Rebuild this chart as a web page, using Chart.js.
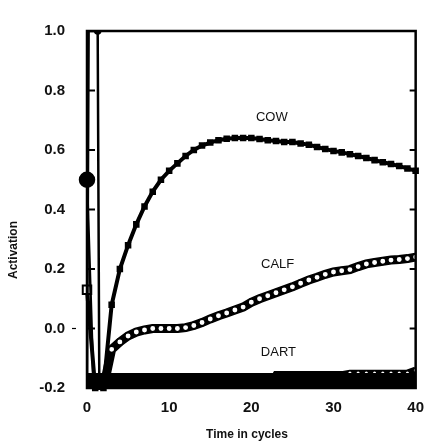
<!DOCTYPE html>
<html>
<head>
<meta charset="utf-8">
<script src="https://cdn.jsdelivr.net/npm/chart.js@4/dist/chart.umd.min.js"></script>
<style>
  body { margin: 0; background: #fff; }
  #wrap { width: 427px; height: 445px; }
</style>
</head>
<body>
<div id="wrap"><canvas id="chart" width="427" height="445"></canvas></div>
<script>
// time steps (cycles)
const times = [0,1,2,3,4,5,6,7,8,9,10,11,12,13,14,15,16,17,18,19,20,
  21,22,23,24,25,26,27,28,29,30,31,32,33,34,35,36,37,38,39,40];

// activations
// the brief unit that saturates right at the start
const spikeTimes = [0, 0.2, 1.3, 1.5];
const spikeUnit = [-0.2, 1.0, 1.0, -0.2];
// the unit with the big dot at t = 0
const startTimes = [0, 0.8];
const startUnit = [0.5, -0.2];
const cow = [0.13, -0.2, -0.2, 0.08, 0.2, 0.28, 0.35, 0.41, 0.46, 0.5, 0.53,
  0.555, 0.58, 0.6, 0.615, 0.625, 0.633, 0.638, 0.64, 0.64, 0.64,
  0.637, 0.633, 0.63, 0.627, 0.627, 0.622, 0.618, 0.61, 0.603, 0.597,
  0.592, 0.586, 0.58, 0.573, 0.566, 0.559, 0.553, 0.546, 0.538, 0.53];
const calf = [-0.2, -0.2, -0.2, -0.07, -0.045, -0.025, -0.012, -0.005, 0, 0, 0,
  0, 0.003, 0.01, 0.02, 0.032, 0.043, 0.052, 0.062, 0.072, 0.088,
  0.1, 0.11, 0.12, 0.13, 0.14, 0.152, 0.163, 0.172, 0.182, 0.19,
  0.194, 0.198, 0.208, 0.217, 0.222, 0.226, 0.23, 0.232, 0.235, 0.24];
const dart = [-0.2, -0.2, -0.2, -0.2, -0.2, -0.2, -0.2, -0.2, -0.2, -0.2, -0.2,
  -0.2, -0.2, -0.2, -0.2, -0.2, -0.2, -0.2, -0.2, -0.2, -0.2,
  -0.2, -0.2, -0.155, -0.155, -0.155, -0.155, -0.155, -0.155, -0.155, -0.155,
  -0.155, -0.15, -0.15, -0.15, -0.15, -0.15, -0.15, -0.15, -0.15, -0.14];
const otherUnits = [-0.2, -0.2, -0.2, -0.2, -0.2, -0.2, -0.2, -0.2, -0.2, -0.2, -0.2,
  -0.2, -0.2, -0.2, -0.2, -0.2, -0.2, -0.2, -0.2, -0.2, -0.2,
  -0.2, -0.2, -0.2, -0.2, -0.2, -0.2, -0.2, -0.2, -0.2, -0.2,
  -0.2, -0.2, -0.2, -0.2, -0.2, -0.2, -0.2, -0.2, -0.2, -0.2];

// curve labels: [text, time, activation]
const curveLabels = [['COW', 22.5, 0.71], ['CALF', 23.2, 0.215], ['DART', 23.3, -0.08]];
const yTicks = [-0.2, 0, 0.2, 0.4, 0.6, 0.8, 1.0];

function pts(values, xs) {
  xs = xs || times;
  return values.map((v, i) => ({ x: xs[i], y: v }));
}

const FONT = "'Liberation Sans', Arial, sans-serif";

// frame, inside ticks, titles, curve names
const decorations = {
  id: 'decorations',
  afterDatasetsDraw(chart) {
    const { ctx, chartArea: a, scales } = chart;
    ctx.save();
    ctx.strokeStyle = '#000';
    ctx.lineWidth = 2.5;
    ctx.strokeRect(a.left, a.top, a.right - a.left, a.bottom - a.top);

    ctx.lineWidth = 2;
    yTicks.slice(1, -1).forEach(v => {
      const y = scales.y.getPixelForValue(v);
      ctx.beginPath();
      ctx.moveTo(a.left, y); ctx.lineTo(a.left + 8, y);
      ctx.moveTo(a.right, y); ctx.lineTo(a.right - 6, y);
      ctx.stroke();
    });
    // small outer tick at 0.0
    const y0 = scales.y.getPixelForValue(0);
    ctx.beginPath();
    ctx.moveTo(a.left - 15, y0); ctx.lineTo(a.left - 11, y0);
    ctx.lineWidth = 1.2;
    ctx.stroke();

    ctx.fillStyle = '#111';
    ctx.font = '13px ' + FONT;
    ctx.textAlign = 'center';
    ctx.textBaseline = 'middle';
    curveLabels.forEach(([t, x, y]) => {
      ctx.fillText(t, scales.x.getPixelForValue(x), scales.y.getPixelForValue(y));
    });

    ctx.font = 'bold 12px ' + FONT;
    ctx.fillText('Time in cycles', 247, 435);
    ctx.translate(14, 250);
    ctx.rotate(-Math.PI / 2);
    ctx.fillText('Activation', 0, 0);
    ctx.restore();
  }
};

new Chart(document.getElementById('chart'), {
  type: 'line',
  data: {
    datasets: [
      {
        data: pts(otherUnits), borderColor: '#000', borderWidth: 30,
        pointRadius: 0, clip: 0
      },
      {
        data: pts(dart), borderColor: '#000', borderWidth: 7,
        pointRadius: dart.map((v, i) => i > 22 ? 1.6 : 0),
        pointBackgroundColor: '#fff', pointBorderWidth: 0
      },
      {
        data: pts(spikeUnit, spikeTimes), borderColor: '#000', borderWidth: 2.5,
        pointRadius: [0, 0, 2.5, 0], pointBackgroundColor: '#000'
      },
      {
        data: pts(startUnit, startTimes), borderColor: '#000', borderWidth: 2.5,
        pointRadius: [7, 0], pointBackgroundColor: '#000', clip: 10
      },
      {
        data: pts(cow), borderColor: '#000', borderWidth: 4,
        pointStyle: 'rect',
        pointRadius: cow.map((v, i) => i === 0 ? 6 : 3.2),
        pointBackgroundColor: cow.map((v, i) => i === 0 ? '#fff' : '#000'),
        pointBorderColor: '#000', pointBorderWidth: 2, clip: 10
      },
      {
        data: pts(calf), borderColor: '#000', borderWidth: 9,
        pointRadius: calf.map((v, i) => i > 2 ? 3.2 : 0),
        pointBackgroundColor: '#fff', pointBorderColor: '#000', pointBorderWidth: 1.5
      }
    ]
  },
  options: {
    responsive: false,
    animation: false,
    layout: { padding: { left: 8, right: 9, top: 31, bottom: 0 } },
    plugins: { legend: { display: false }, tooltip: { enabled: false } },
    scales: {
      x: {
        type: 'linear', min: 0, max: 40,
        grid: { display: false }, border: { display: false },
        ticks: {
          stepSize: 10, padding: 3, color: '#111',
          font: { family: FONT, size: 15, weight: 'bold' }
        },
        afterFit: s => { s.height = 57; }
      },
      y: {
        min: -0.2, max: 1.0,
        grid: { display: false }, border: { display: false },
        ticks: {
          stepSize: 0.2, padding: 14, color: '#111',
          font: { family: FONT, size: 15, weight: 'bold' },
          callback: v => (Math.abs(v) < 1e-9 ? 0 : Number(v)).toFixed(1)
        },
        afterFit: s => { s.width = 79; }
      }
    }
  },
  plugins: [decorations]
});
</script>
</body>
</html>
